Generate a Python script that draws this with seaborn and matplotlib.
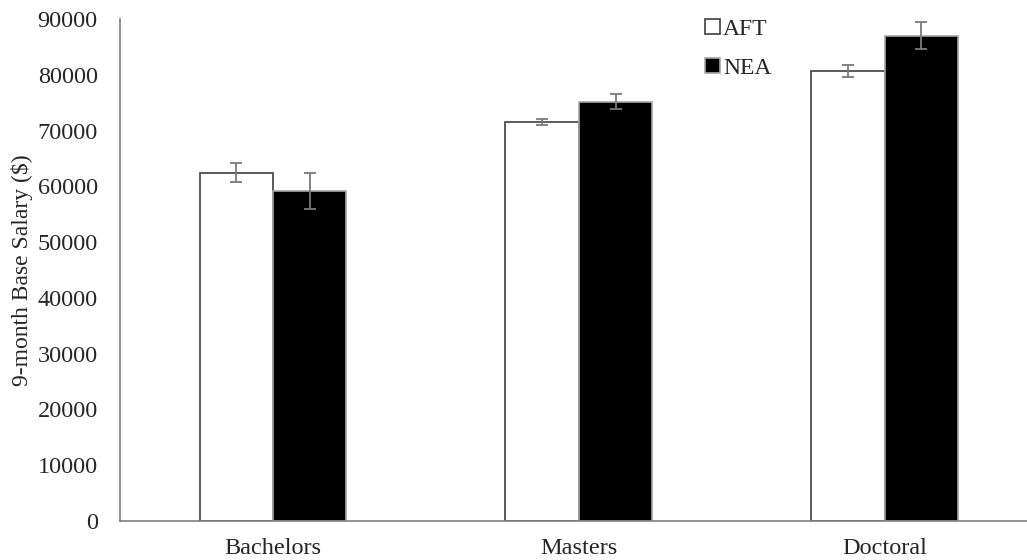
import matplotlib
matplotlib.use("Agg")
import matplotlib.pyplot as plt
import seaborn as sns
import pandas as pd

# values
degrees = ["Bachelors", "Masters", "Doctoral"]
unions = ["AFT", "NEA"]
aft_salary = [62400, 71500, 80700]
nea_salary = [59200, 75200, 87000]
aft_err = [1700, 550, 1050]
nea_err = [3200, 1300, 2450]
y_ticks = list(range(0, 90001, 10000))

df = pd.DataFrame({
    "degree": degrees * 2,
    "union": ["AFT"] * 3 + ["NEA"] * 3,
    "salary": aft_salary + nea_salary,
})

sns.set_style("white")
plt.rcParams["font.family"] = ["Liberation Serif", "DejaVu Serif"]

fig = plt.figure(figsize=(10.27, 5.6), dpi=100)
ax = fig.add_axes([120 / 1027, 1 - 521 / 560, 907 / 1027, 502 / 560])

sns.barplot(data=df, x="degree", y="salary", hue="union", order=degrees,
            hue_order=unions, palette=["white", "black"], width=0.48,
            errorbar=None, ax=ax)

edge_colors = ["#404040", "#a6a6a6"]
errs = [aft_err, nea_err]
for cont, ec, err in zip(ax.containers, edge_colors, errs):
    xs = []
    hs = []
    for bar in cont:
        bar.set_edgecolor(ec)
        bar.set_linewidth(1.2)
        xs.append(bar.get_x() + bar.get_width() / 2)
        hs.append(bar.get_height())
    ax.errorbar(xs, hs, yerr=err, fmt="none", ecolor="#7a7a7a",
                elinewidth=1.3, capsize=4, capthick=1.3)

ax.set_xlim(-0.5, 2.465)
ax.set_ylim(0, 90000)
ax.set_yticks(y_ticks)
ax.set_xlabel("")
ax.set_ylabel("9-month Base Salary ($)", fontsize=17, labelpad=3)
ax.tick_params(axis="y", length=0, pad=16, labelsize=17.5)
ax.tick_params(axis="x", length=0, pad=12, labelsize=17.5)

for side in ["top", "right"]:
    ax.spines[side].set_visible(False)
for side in ["left", "bottom"]:
    ax.spines[side].set_color("#7f7f7f")
    ax.spines[side].set_linewidth(1.2)

ax.legend(handles=ax.containers[0][:1] + ax.containers[1][:1], labels=unions,
          loc="upper left", bbox_to_anchor=(0.622, 1.042), frameon=False,
          fontsize=17, handlelength=0.6, handleheight=0.6, handletextpad=0.15,
          labelspacing=0.75)

fig.savefig("out.png", dpi=100)
